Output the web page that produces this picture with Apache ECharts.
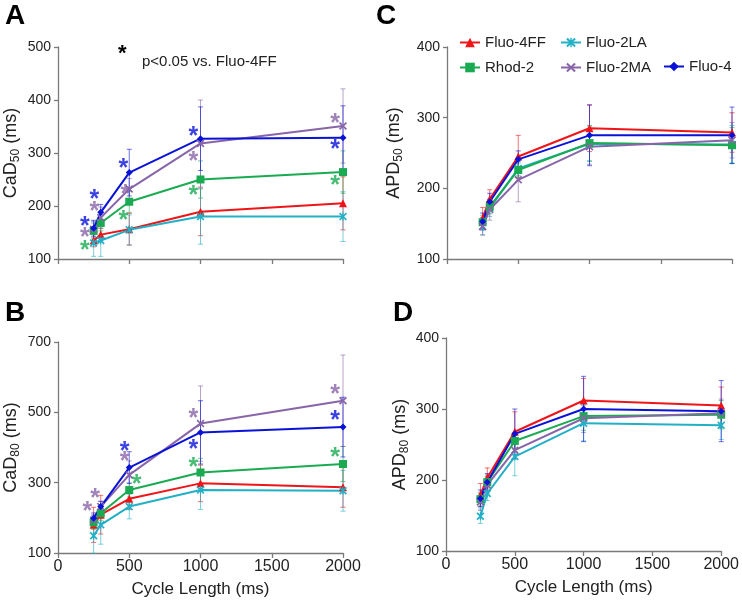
<!DOCTYPE html>
<html>
<head>
<meta charset="utf-8">
<script src="https://cdn.jsdelivr.net/npm/echarts@6/dist/echarts.min.js"></script>
<style>html,body{margin:0;padding:0;background:#fff;}#main{width:742px;height:600px;}</style>
</head>
<body>
<div id="main"></div>
<script>
// ---- data ----
const cycleLength = [250, 300, 500, 1000, 2000];
const seriesNames = ['Fluo-4FF', 'Fluo-2LA', 'Rhod-2', 'Fluo-2MA', 'Fluo-4'];

// Panel A: CaD50 (ms)
const cad50_fluo4ff = [135, 146, 156, 189, 205];
const cad50_fluo2la = [130, 135, 155, 180, 180];
const cad50_rhod2   = [153, 168, 208, 250, 264];
const cad50_fluo2ma = [156, 178, 232, 318, 351];
const cad50_fluo4   = [158, 188, 263, 327, 329];
const cad50_err_fluo4ff = [12, 12, 30, 45, 50];
const cad50_err_fluo2la = [25, 30, 28, 52, 47];
const cad50_err_rhod2   = [15, 15, 20, 35, 40];
const cad50_err_fluo2ma = [15, 20, 20, 82, 70];
const cad50_err_fluo4   = [15, 15, 44, 60, 60];

// Panel B: CaD80 (ms)
const cad80_fluo4ff = [180, 209, 254, 298, 287];
const cad80_fluo2la = [149, 180, 232, 279, 277];
const cad80_rhod2   = [187, 213, 279, 329, 353];
const cad80_fluo2ma = [194, 232, 322, 468, 533];
const cad80_fluo4   = [199, 232, 343, 443, 458];
const cad80_err_fluo4ff = [50, 55, 30, 52, 57];
const cad80_err_fluo2la = [50, 55, 35, 55, 58];
const cad80_err_rhod2   = [20, 20, 20, 40, 50];
const cad80_err_fluo2ma = [15, 15, 40, 107, 130];
const cad80_err_fluo4   = [15, 15, 45, 90, 85];

// Panel C: APD50 (ms)
const apd50_fluo4ff = [158, 185, 245, 285, 279];
const apd50_fluo2la = [146, 172, 228, 263, 262];
const apd50_rhod2   = [152, 174, 226, 264, 261];
const apd50_fluo2ma = [146, 170, 212, 259, 268];
const apd50_fluo4   = [153, 181, 241, 275, 275];
const apd50_err_fluo4ff = [15, 13, 30, 33, 28];
const apd50_err_fluo2la = [12, 12, 10, 25, 27];
const apd50_err_rhod2   = [10, 10, 10, 25, 25];
const apd50_err_fluo2ma = [12, 15, 31, 25, 25];
const apd50_err_fluo4   = [12, 12, 12, 43, 40];

// Panel D: APD80 (ms)
const apd80_fluo4ff = [179, 203, 268, 312, 305];
const apd80_fluo2la = [149, 181, 233, 280, 277];
const apd80_rhod2   = [173, 197, 255, 290, 292];
const apd80_fluo2ma = [169, 193, 242, 287, 294];
const apd80_fluo4   = [174, 197, 265, 300, 297];
const apd80_err_fluo4ff = [16, 14, 28, 31, 26];
const apd80_err_fluo2la = [10, 10, 27, 25, 20];
const apd80_err_rhod2   = [10, 10, 12, 20, 20];
const apd80_err_fluo2ma = [12, 12, 12, 20, 20];
const apd80_err_fluo4   = [12, 12, 35, 46, 43];

// significance asterisks [cycle length, value]
const starA_fluo4   = [[189, 171], [255, 223], [458, 281], [950, 341], [1944, 317]];
const starA_fluo2ma = [[189, 150], [255, 200], [472, 232], [950, 295], [1944, 365]];
const starA_rhod2   = [[189, 127], [458, 183], [950, 230], [1944, 248]];
const starB_fluo2ma = [[206, 232], [260, 270], [467, 376], [950, 499], [1944, 565]];
const starB_fluo4   = [[467, 404], [950, 410], [1944, 492]];
const starB_rhod2   = [[552, 311], [950, 358], [1944, 386]];

// tick settings
const xTicks = {min: 0, max: 2000, interval: 500};
const yTicksA = {min: 100, max: 500, interval: 100};
const yTicksB = {min: 100, max: 700, interval: 200};
const yTicksC = {min: 100, max: 400, interval: 100};
const yTicksD = {min: 100, max: 400, interval: 100};

// ---- styles ----
const FONT = '"Liberation Sans", Arial, sans-serif';
const colors = {
  'Fluo-4FF': '#ee1418',
  'Fluo-2LA': '#22b0c6',
  'Rhod-2':   '#1aab52',
  'Fluo-2MA': '#8865a8',
  'Fluo-4':   '#0a12d8'
};
const xPath = 'path://M0,1.5L1.5,0L5,3.5L8.5,0L10,1.5L6.5,5L10,8.5L8.5,10L5,6.5L1.5,10L0,8.5L3.5,5Z';
const starPath = 'path://M0,1.5L1.5,0L5,3.5L8.5,0L10,1.5L6.5,5L10,8.5L8.5,10L5,6.5L1.5,10L0,8.5L3.5,5Z M4.3,0L5.7,0L5.7,10L4.3,10Z';
const symbols = {
  'Fluo-4FF': ['triangle', 8],
  'Fluo-2LA': [starPath, 8],
  'Rhod-2':   ['rect', 8],
  'Fluo-2MA': [xPath, 8],
  'Fluo-4':   ['diamond', 7]
};

const panels = [
  {vals: [cad50_fluo4ff, cad50_fluo2la, cad50_rhod2, cad50_fluo2ma, cad50_fluo4],
   errs: [cad50_err_fluo4ff, cad50_err_fluo2la, cad50_err_rhod2, cad50_err_fluo2ma, cad50_err_fluo4]},
  {vals: [cad80_fluo4ff, cad80_fluo2la, cad80_rhod2, cad80_fluo2ma, cad80_fluo4],
   errs: [cad80_err_fluo4ff, cad80_err_fluo2la, cad80_err_rhod2, cad80_err_fluo2ma, cad80_err_fluo4]},
  {vals: [apd50_fluo4ff, apd50_fluo2la, apd50_rhod2, apd50_fluo2ma, apd50_fluo4],
   errs: [apd50_err_fluo4ff, apd50_err_fluo2la, apd50_err_rhod2, apd50_err_fluo2ma, apd50_err_fluo4]},
  {vals: [apd80_fluo4ff, apd80_fluo2la, apd80_rhod2, apd80_fluo2ma, apd80_fluo4],
   errs: [apd80_err_fluo4ff, apd80_err_fluo2la, apd80_err_rhod2, apd80_err_fluo2ma, apd80_err_fluo4]}
];

const grids = [
  {left: 58, top: 47, width: 285, height: 212},
  {left: 58, top: 342, width: 285, height: 211},
  {left: 447, top: 47, width: 285, height: 212},
  {left: 446, top: 338, width: 284, height: 213}
];

const axisLineStyle = {color: '#7a7a7a', width: 1.3};
function xAxis(i, showLabels, showName) {
  return Object.assign({
    type: 'value', gridIndex: i,
    axisLine: {show: true, lineStyle: axisLineStyle, onZero: false},
    axisTick: {show: true, length: 5, lineStyle: axisLineStyle},
    splitLine: {show: false},
    axisLabel: {show: showLabels, fontSize: 16, color: '#222', fontFamily: FONT, margin: 6,
      formatter: function (v) { return String(v); }},
    name: showName ? 'Cycle Length (ms)' : '',
    nameLocation: 'middle', nameGap: 28,
    nameTextStyle: {fontSize: 17, color: '#222', fontFamily: FONT}
  }, xTicks);
}
function yAxis(i, ticks, main, sub, gap) {
  return Object.assign({
    type: 'value', gridIndex: i,
    axisLine: {show: true, lineStyle: axisLineStyle},
    axisTick: {show: true, length: 4, lineStyle: axisLineStyle},
    splitLine: {show: false},
    axisLabel: {fontSize: 14, color: '#222', fontFamily: FONT, margin: 7},
    name: '{m|' + main + '}{s|' + sub + '}{m| (ms)}',
    nameLocation: 'middle', nameGap: gap, nameRotate: 90,
    nameTextStyle: {
      color: '#222', fontFamily: FONT,
      rich: {
        m: {fontSize: 18, color: '#222', fontFamily: FONT},
        s: {fontSize: 12, color: '#222', fontFamily: FONT, verticalAlign: 'bottom', padding: [0, 0, -2, 0]}
      }
    }
  }, ticks);
}

function errRender(params, api) {
  const x = api.value(0), lo = api.value(1), hi = api.value(2);
  const a = api.coord([x, hi]), b = api.coord([x, lo]);
  const w = 2.5;
  const style = {stroke: api.visual('color'), lineWidth: 1, opacity: 0.6};
  return {
    type: 'group',
    children: [
      {type: 'line', shape: {x1: a[0], y1: a[1], x2: b[0], y2: b[1]}, style: style},
      {type: 'line', shape: {x1: a[0] - w, y1: a[1], x2: a[0] + w, y2: a[1]}, style: style},
      {type: 'line', shape: {x1: b[0] - w, y1: b[1], x2: b[0] + w, y2: b[1]}, style: style}
    ]
  };
}

const series = [];
panels.forEach(function (p, gi) {
  seriesNames.forEach(function (name, k) {
    series.push({
      type: 'custom', name: name + ' err', xAxisIndex: gi, yAxisIndex: gi,
      renderItem: errRender, itemStyle: {color: colors[name]},
      encode: {x: 0, y: [1, 2]}, z: 1, silent: true,
      data: cycleLength.map(function (x, j) { return [x, p.vals[k][j] - p.errs[k][j], p.vals[k][j] + p.errs[k][j]]; })
    });
  });
  seriesNames.forEach(function (name, k) {
    series.push({
      type: 'line', name: name, xAxisIndex: gi, yAxisIndex: gi,
      data: cycleLength.map(function (x, j) { return [x, p.vals[k][j]]; }),
      symbol: symbols[name][0], symbolSize: symbols[name][1], showSymbol: true,
      lineStyle: {color: colors[name], width: 2},
      itemStyle: {color: colors[name]},
      z: 3, animation: false
    });
  });
});

function starSeries(gi, data, name) {
  return {
    type: 'scatter', xAxisIndex: gi, yAxisIndex: gi, symbolSize: 0.1, z: 4,
    data: data, silent: true,
    label: {show: true, formatter: '*', position: 'inside', offset: [0, 6],
      fontSize: 25, fontWeight: 'bold', color: colors[name], fontFamily: FONT}
  };
}
series.push(starSeries(0, starA_fluo4, 'Fluo-4'));
series.push(starSeries(0, starA_fluo2ma, 'Fluo-2MA'));
series.push(starSeries(0, starA_rhod2, 'Rhod-2'));
series.push(starSeries(1, starB_fluo2ma, 'Fluo-2MA'));
series.push(starSeries(1, starB_fluo4, 'Fluo-4'));
series.push(starSeries(1, starB_rhod2, 'Rhod-2'));

const legendBase = {
  orient: 'vertical', itemWidth: 20, itemHeight: 12, itemGap: 10,
  textStyle: {fontSize: 15, color: '#222', fontFamily: FONT},
  selectedMode: false
};

const option = {
  animation: false,
  backgroundColor: '#fff',
  grid: grids,
  xAxis: [xAxis(0, false, false), xAxis(1, true, true), xAxis(2, false, false), xAxis(3, true, true)],
  yAxis: [
    yAxis(0, yTicksA, 'CaD', '50', 38),
    yAxis(1, yTicksB, 'CaD', '80', 38),
    yAxis(2, yTicksC, 'APD', '50', 44),
    yAxis(3, yTicksD, 'APD', '80', 37)
  ],
  legend: [
    Object.assign({data: ['Fluo-4FF', 'Rhod-2'], left: 454, top: 30}, legendBase),
    Object.assign({data: ['Fluo-2LA', 'Fluo-2MA'], left: 555, top: 30}, legendBase),
    Object.assign({data: ['Fluo-4'], left: 658, top: 54}, legendBase)
  ],
  graphic: [
    {type: 'text', left: 5, top: 2, style: {text: 'A', font: 'bold 28px ' + FONT, fill: '#000'}},
    {type: 'text', left: 5, top: 299, style: {text: 'B', font: 'bold 28px ' + FONT, fill: '#000'}},
    {type: 'text', left: 376, top: 2, style: {text: 'C', font: 'bold 28px ' + FONT, fill: '#000'}},
    {type: 'text', left: 393, top: 299, style: {text: 'D', font: 'bold 28px ' + FONT, fill: '#000'}},
    {type: 'text', left: 118, top: 43, style: {text: '*', font: 'bold 22px ' + FONT, fill: '#000'}},
    {type: 'text', left: 142, top: 54, style: {text: 'p<0.05 vs. Fluo-4FF', font: '15px ' + FONT, fill: '#222'}}
  ],
  series: series
};

const chart = echarts.init(document.getElementById('main'), null, {renderer: 'canvas'});
chart.setOption(option);
</script>
</body>
</html>
